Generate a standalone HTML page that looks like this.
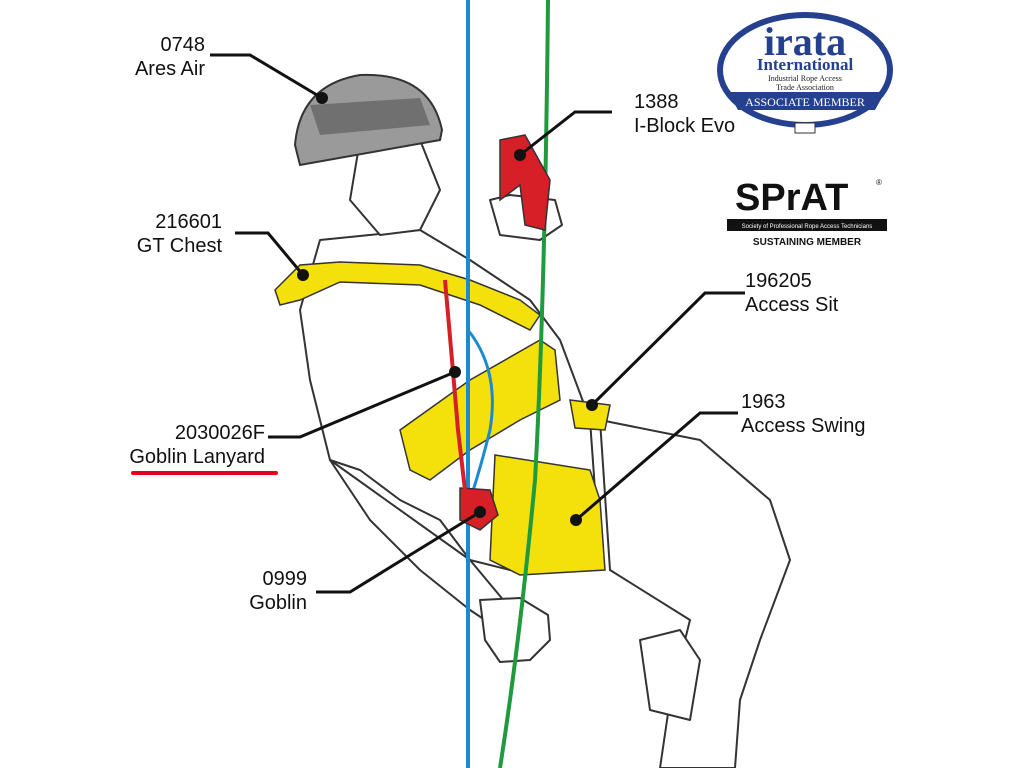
<!DOCTYPE html>
<html><head><meta charset="utf-8"><style>
html,body{margin:0;padding:0;background:#fff;}
svg{display:block}
.l{font-family:"Liberation Sans Narrow","Liberation Sans",Arial,sans-serif;font-size:20px;fill:#111;}
</style></head><body>
<svg width="1024" height="768" viewBox="0 0 1024 768" xmlns="http://www.w3.org/2000/svg">
<rect width="1024" height="768" fill="#fff"/>
<g fill="#fff" stroke="#333" stroke-width="2" stroke-linejoin="round">
<path d="M600 420 L700 440 L770 500 L790 560 L760 640 L740 700 L735 768 L660 768 L670 700 L690 620 L610 570 Z"/>
<path d="M320 240 L420 230 L470 260 L530 300 L560 340 L590 420 L600 560 L510 570 L470 560 L440 520 L400 500 L360 470 L330 460 L310 380 L300 310 Z"/>
<path d="M330 460 L370 520 L420 570 L470 610 L500 630 L520 620 L470 560 Z"/>
<path d="M480 600 L520 598 L548 615 L550 640 L530 660 L500 662 L485 640 Z"/>
<path d="M640 640 L680 630 L700 660 L690 720 L650 710 Z"/>
<path d="M360 140 L420 140 L440 190 L420 230 L380 235 L350 200 Z"/>
<path d="M490 200 L510 195 L555 200 L562 225 L540 240 L500 235 Z"/>
</g>
<path d="M295 145 Q300 85 360 75 Q430 72 442 130 L440 140 L300 165 Z" fill="#9a9a9a" stroke="#333" stroke-width="2"/>
<path d="M310 105 L420 98 L430 125 L320 135 Z" fill="#555" opacity=".6"/>
<g fill="#f4e00b" stroke="#333" stroke-width="1.5">
<path d="M275 290 L300 265 L340 262 L420 265 L470 280 L520 300 L540 315 L530 330 L480 305 L420 285 L340 282 L300 300 L280 305 Z"/>
<path d="M400 430 L470 380 L540 340 L555 350 L560 400 L520 420 L470 450 L430 480 L410 470 Z"/>
<path d="M495 455 L590 470 L600 500 L605 570 L520 575 L490 560 Z"/>
<path d="M570 400 L610 405 L605 430 L575 428 Z"/>
</g>
<path d="M468 0 L468 768" stroke="#1b8ad0" stroke-width="4" fill="none"/>
<path d="M548 0 Q545 300 535 480 Q520 640 500 768" stroke="#1f9a3d" stroke-width="4" fill="none"/>
<path d="M468 330 Q500 370 490 430 Q480 470 470 500" stroke="#1b8ad0" stroke-width="3" fill="none"/>
<g fill="#d61f26" stroke="#333" stroke-width="1.5">
<path d="M500 140 L525 135 L550 180 L545 230 L525 225 L520 185 L500 200 Z"/>
<path d="M460 488 L490 490 L498 515 L480 530 L460 520 Z"/>
</g>
<path d="M445 280 L452 360 L458 430 L465 490" stroke="#d61f26" stroke-width="4" fill="none"/>
<g stroke="#111" stroke-width="3" fill="none">
<path d="M210 55 L250 55 L322 98"/>
<path d="M612 112 L575 112 L520 155"/>
<path d="M235 233 L268 233 L303 275"/>
<path d="M745 293 L705 293 L592 405"/>
<path d="M268 437 L300 437 L455 372"/>
<path d="M738 413 L700 413 L576 520"/>
<path d="M316 592 L350 592 L480 512"/>
</g>
<g fill="#111">
<circle cx="322" cy="98" r="6"/><circle cx="520" cy="155" r="6"/><circle cx="303" cy="275" r="6"/>
<circle cx="592" cy="405" r="6"/><circle cx="455" cy="372" r="6"/><circle cx="576" cy="520" r="6"/><circle cx="480" cy="512" r="6"/>
</g>
<text class="l" x="205" y="51" text-anchor="end">0748</text>
<text class="l" x="205" y="75" text-anchor="end">Ares Air</text>
<text class="l" x="634" y="108">1388</text>
<text class="l" x="634" y="132">I-Block Evo</text>
<text class="l" x="222" y="228" text-anchor="end">216601</text>
<text class="l" x="222" y="252" text-anchor="end">GT Chest</text>
<text class="l" x="745" y="287">196205</text>
<text class="l" x="745" y="311">Access Sit</text>
<text class="l" x="265" y="439" text-anchor="end">2030026F</text>
<text class="l" x="265" y="463" text-anchor="end">Goblin Lanyard</text>
<rect x="131" y="471" width="147" height="4" rx="2" fill="#e3001b"/>
<text class="l" x="741" y="408">1963</text>
<text class="l" x="741" y="432">Access Swing</text>
<text class="l" x="307" y="585" text-anchor="end">0999</text>
<text class="l" x="307" y="609" text-anchor="end">Goblin</text>
<ellipse cx="805" cy="70" rx="85" ry="55" fill="#fff" stroke="#24408e" stroke-width="6"/>
<text x="805" y="55" text-anchor="middle" font-family="Liberation Serif,serif" font-size="40" font-weight="bold" fill="#24408e">irata</text>
<text x="805" y="70" text-anchor="middle" font-family="Liberation Serif,serif" font-size="17" font-weight="bold" fill="#24408e">International</text>
<text x="805" y="81" text-anchor="middle" font-family="Liberation Serif,serif" font-size="8" fill="#222">Industrial Rope Access</text>
<text x="805" y="90" text-anchor="middle" font-family="Liberation Serif,serif" font-size="8" fill="#222">Trade Association</text>
<path d="M728 92 L885 92 L875 110 L738 110 Z" fill="#24408e"/>
<text x="805" y="106" text-anchor="middle" font-family="Liberation Serif,serif" font-size="12" fill="#fff">ASSOCIATE MEMBER</text>
<rect x="795" y="123" width="20" height="10" fill="#fff" stroke="#333"/>
<text x="735" y="210" font-family="Liberation Sans,sans-serif" font-size="38" font-weight="bold" fill="#111">SPrAT</text>
<text x="876" y="185" font-family="Liberation Sans,sans-serif" font-size="8" fill="#111">®</text>
<rect x="727" y="219" width="160" height="12" fill="#111"/>
<text x="807" y="228" text-anchor="middle" font-family="Liberation Sans,sans-serif" font-size="6" fill="#fff">Society of Professional Rope Access Technicians</text>
<text x="807" y="245" text-anchor="middle" font-family="Liberation Sans,sans-serif" font-size="10" font-weight="bold" fill="#111">SUSTAINING MEMBER</text>
</svg>
</body></html>
